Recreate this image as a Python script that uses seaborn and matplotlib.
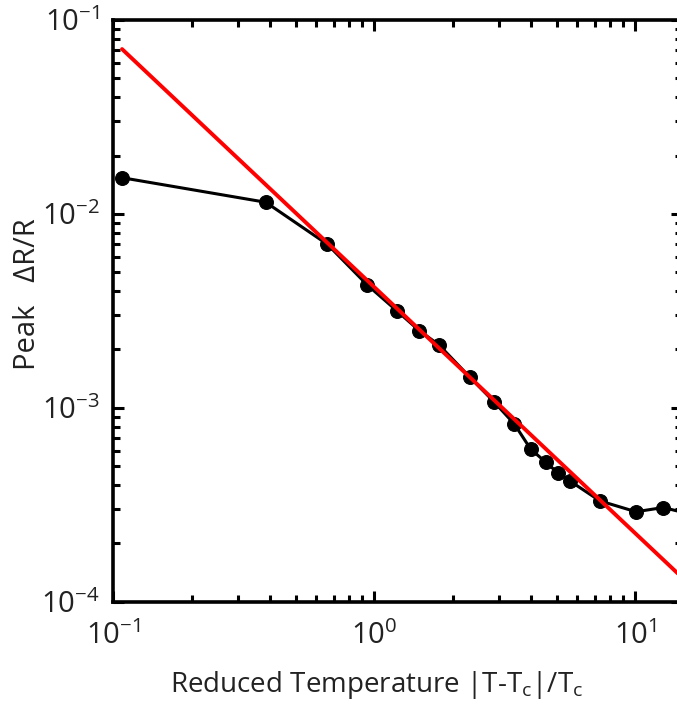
import numpy as np
import pandas as pd
import matplotlib
matplotlib.use("Agg")
import matplotlib.pyplot as plt
import seaborn as sns

# Data
reduced_temp = [0.1077, 0.384, 0.661, 0.940, 1.218, 1.487, 1.770, 2.326, 2.874,
                3.44, 3.97, 4.54, 5.04, 5.64, 7.32, 10.06, 12.8, 16.2]
peak_dr = [0.01538, 0.01148, 0.00697, 0.00430, 0.00317, 0.00250, 0.00211, 0.001436,
           0.001074, 0.000825, 0.000613, 0.000524, 0.000463, 0.000418, 0.000331,
           0.000291, 0.000306, 0.000283]
fit_x = [0.108, 16.0]
fit_y = [0.0708, 0.000124]

sns.set_style("ticks")
plt.rcParams['font.family'] = ['Open Sans', 'DejaVu Sans']
plt.rcParams['mathtext.fontset'] = 'custom'
plt.rcParams['mathtext.rm'] = 'Open Sans'
plt.rcParams['mathtext.it'] = 'Open Sans'

fig = plt.figure(figsize=(6.77, 7.11), dpi=100)
ax = fig.add_axes([113.3 / 677, 109.3 / 711, (682 - 113.3) / 677, (601.7 - 20) / 711])

df = pd.DataFrame({"x": reduced_temp, "y": peak_dr})
dfit = pd.DataFrame({"x": fit_x, "y": fit_y})

sns.lineplot(data=df, x="x", y="y", ax=ax, color="black", linewidth=2.2,
             marker="o", markersize=10, markeredgecolor="black", sort=False)
sns.lineplot(data=dfit, x="x", y="y", ax=ax, color="#ff0000", linewidth=2.8, sort=False)

ax.set_xscale("log")
ax.set_yscale("log")
ax.set_xlim(0.1, 15.1)
ax.set_ylim(1e-4, 1e-1)

for s in ax.spines.values():
    s.set_linewidth(2.6)
    s.set_color("black")

ax.tick_params(which="both", direction="in", top=True, right=True, width=2.2, color="black",
               labelsize=21, labelcolor="#222222")
ax.tick_params(which="major", length=8)
ax.tick_params(axis="x", which="major", pad=14)
ax.tick_params(axis="y", which="major", pad=10)
ax.tick_params(which="minor", length=5)

ax.set_xlabel(r"Reduced Temperature $|$T-T$_{\mathrm{c}}|$/T$_{\mathrm{c}}$", fontsize=20, color="#222222")
ax.set_ylabel("Peak   \u0394R/R", fontsize=21, color="#222222")
ax.xaxis.set_label_coords(0.4637, -0.116)
ax.yaxis.set_label_coords(-0.125, 0.529)

fig.savefig("out.png", dpi=100)
